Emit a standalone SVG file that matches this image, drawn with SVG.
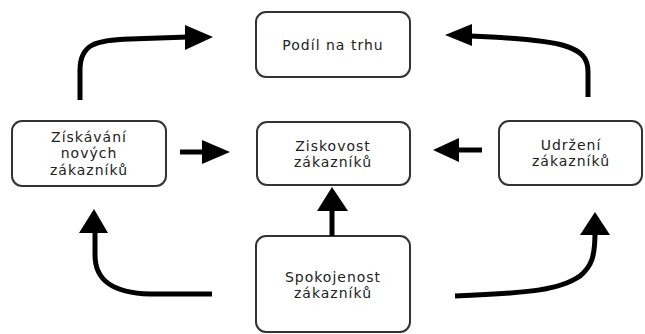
<svg xmlns="http://www.w3.org/2000/svg" width="645" height="334" viewBox="0 0 645 334">
  <style>
    .box { fill: #ffffff; stroke: #333333; stroke-width: 2; }
    .lbl { font-family: "DejaVu Sans", Verdana, sans-serif; font-size: 14px; letter-spacing: 1px; fill: #222222; text-anchor: middle; }
    .wire { fill: none; stroke: #000000; stroke-width: 5; }
    .head { fill: #000000; }
  </style>
  <rect width="645" height="334" fill="#ffffff"/>

  <g id="node-podil">
    <rect class="box" x="256" y="12" width="154" height="65" rx="10"/>
    <text class="lbl" x="333" y="50">Podíl na trhu</text>
  </g>

  <g id="node-ziskavani">
    <rect class="box" x="12" y="121" width="154" height="65" rx="10"/>
    <text class="lbl" x="89" y="142">Získávání</text>
    <text class="lbl" x="89" y="158">nových</text>
    <text class="lbl" x="89" y="175">zákazníků</text>
  </g>

  <g id="node-ziskovost">
    <rect class="box" x="257" y="122" width="153" height="63" rx="10"/>
    <text class="lbl" x="333" y="151">Ziskovost</text>
    <text class="lbl" x="333" y="167">zákazníků</text>
  </g>

  <g id="node-udrzeni">
    <rect class="box" x="499" y="121" width="143" height="64" rx="10"/>
    <text class="lbl" x="571" y="150">Udržení</text>
    <text class="lbl" x="571" y="166">zákazníků</text>
  </g>

  <g id="node-spokojenost">
    <rect class="box" x="256" y="236" width="154" height="96" rx="10"/>
    <text class="lbl" x="333" y="282">Spokojenost</text>
    <text class="lbl" x="333" y="298">zákazníků</text>
  </g>

  <g id="connectors">
    <!-- acquisition -> market share -->
    <path class="wire" d="M80,100 L80,70 C80,44 96,40 130,39 L188,37"/>
    <polygon class="head" points="185,25 213,37 185,50"/>
    <!-- retention -> market share -->
    <path class="wire" d="M588,97 L588,72 C588,46 565,40 470,36"/>
    <polygon class="head" points="472,24 445,35 472,46"/>
    <!-- acquisition -> profitability -->
    <path class="wire" d="M180,152 L205,152"/>
    <polygon class="head" points="202,140 230,152 202,164"/>
    <!-- retention -> profitability -->
    <path class="wire" d="M482,150 L456,150"/>
    <polygon class="head" points="459,138 433,150 459,162"/>
    <!-- satisfaction -> profitability -->
    <path class="wire" d="M332,236 L332,208"/>
    <polygon class="head" points="317,211 332,187 348,211"/>
    <!-- satisfaction -> acquisition -->
    <path class="wire" d="M212,294 L150,294 C112,293 95,280 95,255 L95,230"/>
    <polygon class="head" points="79,233 94,209 108,233"/>
    <!-- satisfaction -> retention -->
    <path class="wire" d="M455,296 C530,293 560,290 580,276 C592,266 595,256 595,232"/>
    <polygon class="head" points="580,235 595,212 610,235"/>
  </g>
</svg>
